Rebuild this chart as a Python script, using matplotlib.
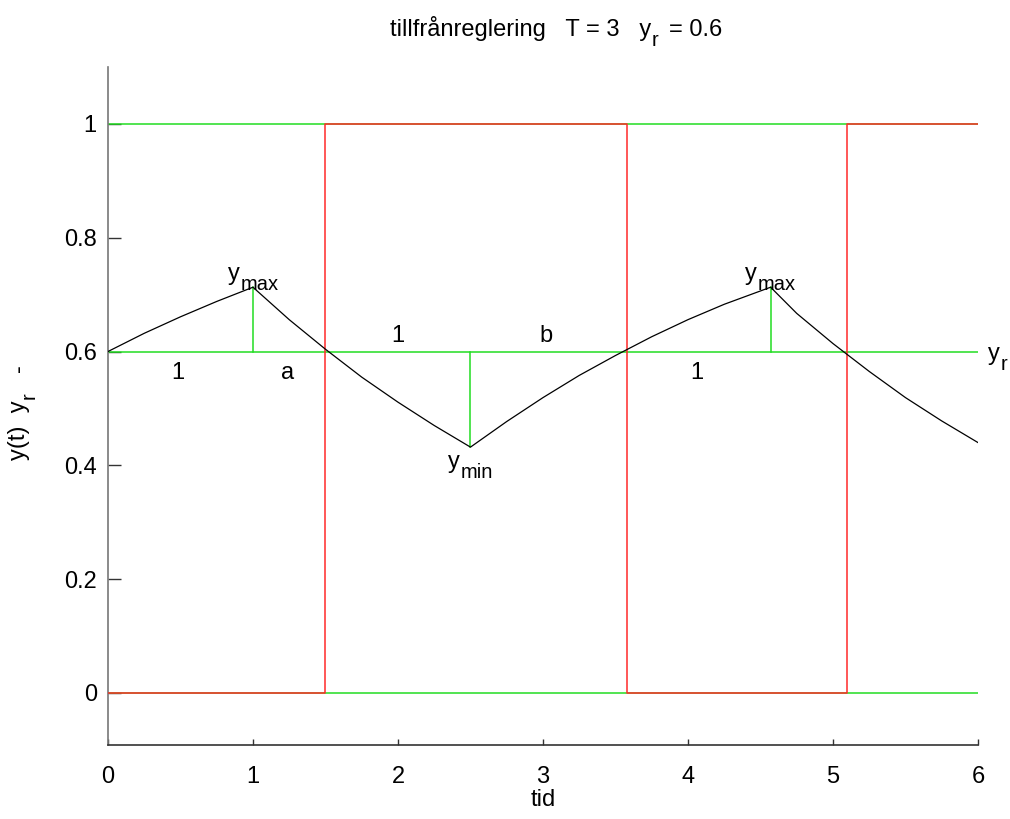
import matplotlib
matplotlib.use("Agg")
import matplotlib.pyplot as plt

plt.rcParams['font.family'] = ['Liberation Sans', 'DejaVu Sans']

# response curve y(t)
t_vals = [0, 0.25, 0.5, 0.75, 1.0, 1.25, 1.5, 1.75, 2.0, 2.25, 2.5, 2.75, 3.0,
          3.25, 3.5, 3.75, 4.0, 4.25, 4.57, 4.75, 5.0, 5.25, 5.5, 5.75, 6.0]
y_vals = [0.600, 0.632, 0.661, 0.688, 0.713, 0.656, 0.604, 0.555, 0.511, 0.470,
          0.432, 0.477, 0.519, 0.558, 0.593, 0.626, 0.656, 0.683, 0.713, 0.667,
          0.614, 0.565, 0.519, 0.478, 0.440]

# on/off control signal (steps)
u_t = [0, 1.5, 1.5, 3.58, 3.58, 5.1, 5.1, 6.0]
u_v = [0, 0, 1, 1, 0, 0, 1, 1]

yr = 0.6
levels = [0, yr, 1]
t_peak = [1.0, 4.57]
y_peak = [0.713, 0.713]
t_min = 2.5
y_min = 0.432

xticks = [0, 1, 2, 3, 4, 5, 6]
yticks = [0, 0.2, 0.4, 0.6, 0.8, 1]
ytick_labels = ['0', '0.2', '0.4', '0.6', '0.8', '1']

W, H = 1010, 819
fig = plt.figure(figsize=(W / 100, H / 100), dpi=100)
ax = fig.add_axes([0.1069, 0.0904, 0.8614, 0.8278])

green = '#22dd22'
red = '#ff2a2a'
for lv in levels:
    ax.plot([0, 6], [lv, lv], color=green, lw=1.1, zorder=2)
for tp, yp in zip(t_peak, y_peak):
    ax.plot([tp, tp], [yr, yp], color=green, lw=1.1, zorder=2)
ax.plot([t_min, t_min], [yr, y_min], color=green, lw=1.1, zorder=2)

ax.plot(u_t, u_v, color=red, lw=1.1, zorder=3)
ax.plot(t_vals, y_vals, color='black', lw=0.9, zorder=4)

fs = 17
fs_sub = 14.5
sub_drop = 10  # pixels

ax.set_xlim(0, 6)
ax.set_ylim(-0.0914, 1.10)
ax.set_xticks(xticks)
ax.set_xticklabels([str(v) for v in xticks], fontsize=fs)
ax.set_yticks(yticks)
ax.set_yticklabels(ytick_labels, fontsize=fs)
ax.tick_params(axis='x', direction='in', length=4, width=1, pad=15, color='#333333')
ax.tick_params(axis='y', direction='in', length=9, width=1, pad=8, color='#333333')

for s in ['top', 'right']:
    ax.spines[s].set_visible(False)
ax.spines['left'].set_color('#777777')
ax.spines['bottom'].set_color('#333333')
ax.spines['left'].set_linewidth(1.2)
ax.spines['bottom'].set_linewidth(1.2)

ax.set_xlabel('tid', fontsize=fs, labelpad=1)

renderer = fig.canvas.get_renderer()


def rich(x_px, y_px, segs, ha='center', rotation=0):
    """segs: list of (text, is_sub, gap_px_before). x_px,y_px: baseline anchor in pixels."""
    items = []
    total = 0.0
    for s, sub, gap in segs:
        t = fig.text(0, 0, s, fontsize=fs_sub if sub else fs, rotation=rotation,
                     rotation_mode='anchor', ha='left', va='baseline')
        bb = t.get_window_extent(renderer)
        w = bb.width if rotation == 0 else bb.height
        items.append((t, sub, gap, w))
        total += gap + w
    if ha == 'center':
        start = -total / 2
    elif ha == 'left':
        start = 0.0
    else:
        start = -total
    pos = start
    for t, sub, gap, w in items:
        pos += gap
        drop = sub_drop if sub else 0
        if rotation == 0:
            px, py = x_px + pos, y_px - drop
        else:
            px, py = x_px + drop, y_px + pos
        t.set_position((px / W, py / H))
        pos += w


def rich_data(x, y, segs, ha='center'):
    px, py = ax.transData.transform((x, y))
    rich(px, py, segs, ha=ha)


rich_data(1.0, 0.725, [('y', False, 0), ('max', True, 1)])
rich_data(4.57, 0.725, [('y', False, 0), ('max', True, 1)])
rich_data(2.50, 0.395, [('y', False, 0), ('min', True, 1)])
rich_data(6.07, 0.585, [('y', False, 0), ('r', True, 1)], ha='left')

for tx, ty, s in [(0.48, 0.563, '1'), (1.24, 0.563, 'a'), (2.0, 0.627, '1'),
                  (3.02, 0.627, 'b'), (4.06, 0.563, '1')]:
    ax.text(tx, ty, s, ha='center', va='center', fontsize=fs)

# title
rich(722, H - 36, [('tillfrånreglering   T = 3   y', False, 0), ('r', True, 1),
                   ('= 0.6', False, 10)], ha='right')
# y label (rotated)
rich(25, H - 412, [('y(t)  y', False, 0), ('r', True, 1), ('-', False, 20)],
     rotation=90)

fig.savefig('out.png', dpi=100, facecolor='white')
